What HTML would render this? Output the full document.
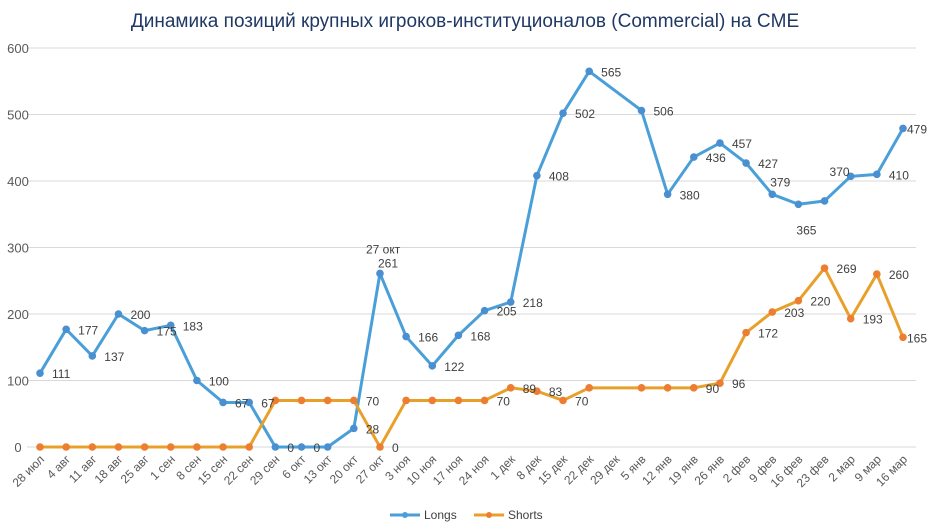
<!DOCTYPE html>
<html><head><meta charset="utf-8"><style>
body{margin:0;background:#fff;font-family:"Liberation Sans",sans-serif}
svg text{font-family:"Liberation Sans",sans-serif}
</style></head><body>
<svg id="c" width="929" height="527">
<text x="465" y="27" text-anchor="middle" font-size="19" fill="#1f3864">Динамика позиций крупных игроков-институционалов (Commercial) на CME</text>
<g id="grid"></g><g id="axis"></g><g id="series"></g><g id="labels"></g>
<g>
<g><line x1="390" y1="515" x2="420" y2="515" stroke="#4a9fd8" stroke-width="3"/><circle cx="405" cy="515" r="3" fill="#4a9fd8"/><text x="424" y="519" font-size="12" fill="#404040">Longs</text></g>
<g><line x1="474" y1="515" x2="504" y2="515" stroke="#e8a02a" stroke-width="3"/><circle cx="489" cy="515" r="3" fill="#ed7d31"/><text x="508" y="519" font-size="12" fill="#404040">Shorts</text></g>
</g>
</svg>
<script>
const categories=["28 июл","4 авг","11 авг","18 авг","25 авг","1 сен","8 сен","15 сен","22 сен","29 сен","6 окт","13 окт","20 окт","27 окт","3 ноя","10 ноя","17 ноя","24 ноя","1 дек","8 дек","15 дек","22 дек","29 дек","5 янв","12 янв","19 янв","26 янв","2 фев","9 фев","16 фев","23 фев","2 мар","9 мар","16 мар"];
const longs=[111,177,137,200,175,183,100,67,67,0,0,0,28,261,166,122,168,205,218,408,502,565,null,506,380,436,457,427,380,365,370,407,410,479];
const shorts=[0,0,0,0,0,0,0,0,0,70,70,70,70,0,70,70,70,70,89,84,70,89,null,89,89,89,96,172,203,220,269,193,260,165];
const longLabels=["111","177","137","200","175","183","100","67","67","0","0","","28","261","166","122","168","205","218","408","502","565","","506","380","436","457","427","379","365","370","","410","479"];
const shortLabels=["","","","","","","","","","","","","70","0","","","","70","89","83","70","","","","","90","96","172","203","220","269","193","260","165"];
const yTicks=[0,100,200,300,400,500,600];
const X=i=>40+i*(863/33), Y=v=>447-v*(399/600);
const NS="http://www.w3.org/2000/svg";
function mk(p,t,a){const e=document.createElementNS(NS,t);for(const k in a)e.setAttribute(k,a[k]);p.appendChild(e);return e;}
const grid=document.getElementById('grid'),axis=document.getElementById('axis'),ser=document.getElementById('series'),lab=document.getElementById('labels');
yTicks.forEach(v=>{const l=mk(grid,'line',{x1:27,x2:916,y1:Y(v),y2:Y(v),stroke:'#d9d9d9','stroke-width':1});


const t=mk(axis,'text',{x:18,y:Y(v)+5,'text-anchor':'middle','font-size':13,fill:'#595959'});t.textContent=v;

});
categories.forEach((c,i)=>{const t=mk(axis,'text',{x:X(i)+5,y:460,'text-anchor':'end','font-size':12,fill:'#595959',transform:`rotate(-45 ${X(i)+5} 460)`});t.textContent=c;

});
function draw(data,lbls,lc,dc,name){
 let d='';data.forEach((v,i)=>{if(v===null)return;d+=(d?'L':'M')+X(i)+','+Y(v);});
 const p=mk(ser,'path',{d:d,fill:'none',stroke:lc,'stroke-width':3,'stroke-linejoin':'round'});
 
 
 data.forEach((v,i)=>{if(v===null)return;const c=mk(ser,'circle',{cx:X(i),cy:Y(v),r:3.8,fill:dc});
 
 
 if(lbls[i]){let dx=12,dy=5,txt=lbls[i];
  if(name==='longs'&&i===13){const t2=mk(lab,'text',{x:X(i)-14,y:Y(v)-20,'font-size':12,fill:'#404040'});t2.textContent='27 окт';
  
  dx=-2;dy=-6;}
  if(name==='longs'&&(i===28||i===29)){dx=-2;dy=i===29?30:-8;}
  if(name==='longs'&&i===30){dx=5;dy=-25;}
  if(i===data.length-1){dx=4;}
  const t=mk(lab,'text',{x:X(i)+dx,y:Y(v)+dy,'font-size':12,fill:'#404040'});t.textContent=txt;
  
  }});
}
draw(longs,longLabels,'#4a9fd8','#4a8fd0','longs');
draw(shorts,shortLabels,'#e8a02a','#ed7d31','shorts');
</script>
</body></html>
